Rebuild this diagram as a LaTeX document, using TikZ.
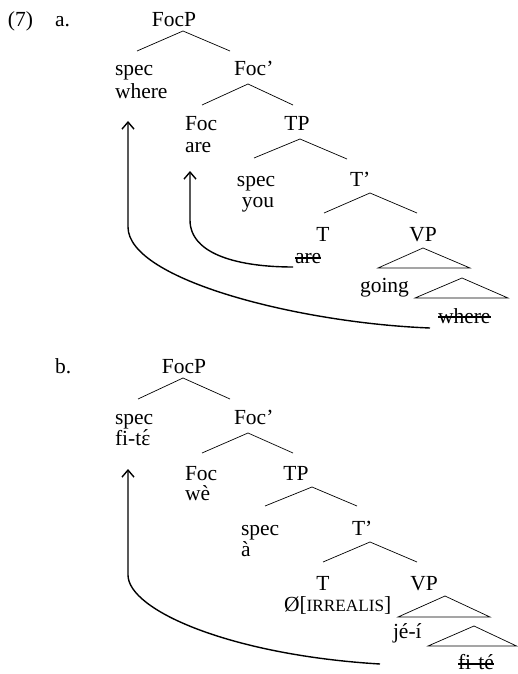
\documentclass[tikz,border=0pt]{standalone}
\usepackage{fontspec}
\setmainfont{Liberation Serif}
\usetikzlibrary{arrows.meta}
\newcommand{\irsc}[1]{{\fontsize{17.2}{18}\selectfont #1}}
\newcommand{\epsacute}{\leavevmode\hbox{ɛ\llap{\hbox to 0.44em{\hss\raisebox{0.02em}{´}\hss}}}}
\begin{document}
\begin{tikzpicture}[x=1pt,y=-1pt,
  every node/.style={inner sep=0pt, outer sep=0pt, font=\fontsize{21.5}{22}\selectfont},
  lab/.style={anchor=base west},
  labc/.style={anchor=base},
  branch/.style={line width=0.7pt},
  move/.style={line width=1.4pt, -{Straight Barb[length=7pt,width=12pt,line width=1.4pt]}},
  strike/.style={line width=1.2pt}]
\useasboundingbox (0,0) rectangle (517,674);

% ---------------- (7a) ----------------
\node[lab] (ex) at (8,27) {(7)};
\node[lab] (la) at (55,27) {a.};
\node[labc] (aFocP) at (174,27) {FocP};
\node[lab] (aSpec) at (115,76) {spec};
\node[lab] (aWhere) at (115,99) {where};
\node[lab] (aFocbar) at (234,76) {Foc’};
\node[lab] (aFoc) at (185,131) {Foc};
\node[lab] (aAre) at (185,152) {are};
\node[labc] (aTP) at (297,131) {TP};
\node[labc] (aSpec2) at (256,186) {spec};
\node[labc] (aYou) at (258,207) {you};
\node[lab] (aTbar) at (350,186) {T’};
\node[labc] (aT) at (323,241) {T};
\node[labc] (aVP) at (423,241) {VP};
\node[lab] (aAreT) at (295,263) {are};
\node[lab] (aGoing) at (360,292) {going};
\node[lab] (aWhereT) at (438,323) {where};

\coordinate (a1) at (183,31);  \coordinate (a1l) at (137,51);  \coordinate (a1r) at (230,51);
\coordinate (a2) at (248,84);  \coordinate (a2l) at (202,105); \coordinate (a2r) at (293,105);
\coordinate (a3) at (300,139); \coordinate (a3l) at (254,158); \coordinate (a3r) at (347,159);
\coordinate (a4) at (370,193); \coordinate (a4l) at (324,213); \coordinate (a4r) at (417,213);
\draw[branch] (a1l) -- (a1) -- (a1r);
\draw[branch] (a2l) -- (a2) -- (a2r);
\draw[branch] (a3l) -- (a3) -- (a3r);
\draw[branch] (a4l) -- (a4) -- (a4r);
\coordinate (at1) at (423,248); \coordinate (at1l) at (378,268); \coordinate (at1r) at (470,268);
\coordinate (at2) at (462,278); \coordinate (at2l) at (415,298); \coordinate (at2r) at (508,298);
\draw[branch] (at1) -- (at1l) -- (at1r) -- cycle;
\draw[branch] (at2) -- (at2l) -- (at2r) -- cycle;

\draw[strike] ([yshift=5pt]aAreT.base west) -- ([yshift=5pt]aAreT.base east);
\draw[strike] ([yshift=6pt]aWhereT.base west) -- ([yshift=6pt]aWhereT.base east);

\coordinate (aLongTail) at (430,328);
\coordinate (aLongBend) at (128,227);
\coordinate (aLongTip) at (128,121);
\draw[move] (aLongTail) .. controls (300,323) and (128,280) .. (aLongBend) -- (aLongTip);
\coordinate (aShortTail) at (293,267);
\coordinate (aShortBend) at (190,220);
\coordinate (aShortTip) at (190,171);
\draw[move] (aShortTail) .. controls (240,267) and (190,255) .. (aShortBend) -- (aShortTip);

% ---------------- (7b) ----------------
\node[lab] (lb) at (55,373) {b.};
\node[labc] (bFocP) at (184,373) {FocP};
\node[lab] (bSpec) at (115,424) {spec};
\node[lab] (bFite) at (115,445) {fi-t\epsacute};
\node[lab] (bFocbar) at (234,424) {Foc’};
\node[lab] (bFoc) at (185,480) {Foc};
\node[lab] (bWe) at (185,500) {wè};
\node[labc] (bTP) at (296,480) {TP};
\node[lab] (bSpec2) at (241,535) {spec};
\node[lab] (bA) at (241,556) {à};
\node[lab] (bTbar) at (352,535) {T’};
\node[labc] (bT) at (323,590) {T};
\node[labc] (bVP) at (424,590) {VP};
\node[lab] (bIrr) at (284,611) {Ø[\irsc{IRREALIS}]};
\node[lab] (bJei) at (393,638) {jé-í};
\node[lab] (bFiteT) at (458,669) {fi-té};

\coordinate (b1) at (183,378); \coordinate (b1l) at (138,399); \coordinate (b1r) at (230,399);
\coordinate (b2) at (248,433); \coordinate (b2l) at (202,453); \coordinate (b2r) at (293,453);
\coordinate (b3) at (312,487); \coordinate (b3l) at (265,506); \coordinate (b3r) at (357,506);
\coordinate (b4) at (370,542); \coordinate (b4l) at (323,562); \coordinate (b4r) at (417,562);
\draw[branch] (b1l) -- (b1) -- (b1r);
\draw[branch] (b2l) -- (b2) -- (b2r);
\draw[branch] (b3l) -- (b3) -- (b3r);
\draw[branch] (b4l) -- (b4) -- (b4r);
\coordinate (bt1) at (445,596); \coordinate (bt1l) at (398,617); \coordinate (bt1r) at (490,617);
\coordinate (bt2) at (474,626); \coordinate (bt2l) at (428,646); \coordinate (bt2r) at (516.5,646);
\draw[branch] (bt1) -- (bt1l) -- (bt1r) -- cycle;
\draw[branch] (bt2) -- (bt2l) -- (bt2r) -- cycle;

\draw[strike] ([yshift=5pt]bFiteT.base west) -- ([yshift=5pt]bFiteT.base east);

\coordinate (bLongTail) at (380,664);
\coordinate (bLongBend) at (128,575);
\coordinate (bLongTip) at (128,469);
\draw[move] (bLongTail) .. controls (230,655) and (128,610) .. (bLongBend) -- (bLongTip);
\end{tikzpicture}
\end{document}
